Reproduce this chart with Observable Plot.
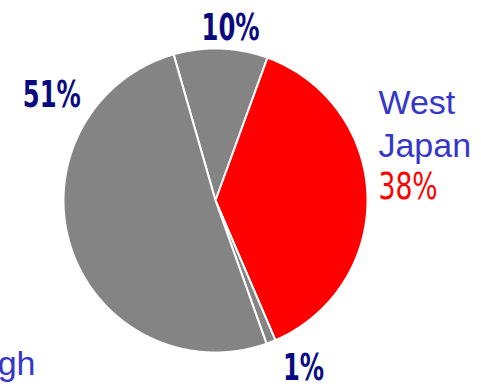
<!DOCTYPE html>
<html><head><meta charset="utf-8">
<script src="https://cdn.jsdelivr.net/npm/d3@7"></script>
<script src="https://cdn.jsdelivr.net/npm/@observablehq/plot@0.6"></script>
<style>body{margin:0;background:#fff} svg{display:block}</style>
</head><body><div id="chart"></div>
<script>
// data
const categories = ["Other", "West Japan", "Minor", "Through"];
const shares = [10, 38, 1, 51];
const percentLabels = ["10%", "38%", "1%", "51%"];

// styles / layout
const sliceColors = ["#848484", "#ff0000", "#848484", "#848484"];
const startDeg = -16;
// label anchor points in pie units (radius = 1)
const pctPos = [[0.099, 1.053], [1.072, 0.007], [0.579, -1.184], [-1.077, 0.612]];

const table = categories.map((c, i) => ({category: c, share: shares[i]}));
const start = startDeg * Math.PI / 180;
const arcs = d3.pie().sort(null).value(d => d.share).startAngle(start).endAngle(start + 2 * Math.PI)(table);
const features = arcs.map(a => {
  const ring = [[0, 0]];
  const n = Math.max(4, Math.ceil((a.endAngle - a.startAngle) / 0.01));
  for (let k = 0; k <= n; k++) {
    const t = a.startAngle + (a.endAngle - a.startAngle) * k / n;
    ring.push([Math.sin(t), Math.cos(t)]);
  }
  ring.push([0, 0]);
  return {type: "Feature", properties: {category: a.data.category}, geometry: {type: "Polygon", coordinates: [ring]}};
});

const pctRows = percentLabels.map((t, i) => ({text: t, x: pctPos[i][0], y: pctPos[i][1], category: categories[i]}));
const centerRows = pctRows.filter(d => d.category !== "West Japan");
const redRows = pctRows.filter(d => d.category === "West Japan");
const nameRows = [
  {text: "West", x: 1.072, y: 0.566},
  {text: "Japan", x: 1.072, y: 0.283}
];
const cutRows = [{text: "Through", x: -1.184, y: -1.151}];

const pctFont = "'DejaVu Sans Condensed', 'DejaVu Sans', sans-serif";
const nameFont = "'Liberation Sans', Arial, sans-serif";

const chart = Plot.plot({
  width: 481,
  height: 389,
  margin: 0,
  projection: {
    type: "reflect-y",
    domain: {type: "MultiPoint", coordinates: [[-215 / 152, -189 / 152], [266 / 152, 200 / 152]]}
  },
  color: {domain: categories, range: sliceColors},
  marks: [
    Plot.geo(features, {fill: d => d.properties.category, stroke: "white", strokeWidth: 2}),
    Plot.text(centerRows, {x: "x", y: "y", text: "text", textAnchor: "middle", lineAnchor: "bottom",
      fill: "#0a0a80", fontSize: 38, fontWeight: "bold", fontFamily: pctFont, className: "narrow-b"}),
    Plot.text(redRows, {x: "x", y: "y", text: "text", textAnchor: "start", lineAnchor: "bottom",
      fill: "#ff0000", fontSize: 37, fontFamily: pctFont, className: "narrow-r"}),
    Plot.text(nameRows, {x: "x", y: "y", text: "text", textAnchor: "start", lineAnchor: "bottom",
      fill: "#3636c8", fontSize: 34, fontFamily: nameFont}),
    Plot.text(cutRows, {x: "x", y: "y", text: "text", textAnchor: "end", lineAnchor: "bottom",
      fill: "#3636c8", fontSize: 34, fontFamily: nameFont})
  ]
});

// horizontally condense the percentage labels around their anchor points
function condense(selector, k) {
  d3.select(chart).selectAll(selector + " text").each(function () {
    const el = d3.select(this);
    const tr = el.attr("transform");
    if (tr) {
      el.attr("transform", tr + ` scale(${k},1)`);
    } else {
      const x = +el.attr("x") || 0, y = +el.attr("y") || 0;
      el.attr("transform", `translate(${x},${y}) scale(${k},1) translate(${-x},${-y})`);
    }
  });
}
condense(".narrow-b", 0.71);
condense(".narrow-r", 0.8);

document.getElementById("chart").append(chart);
</script>
</body></html>
